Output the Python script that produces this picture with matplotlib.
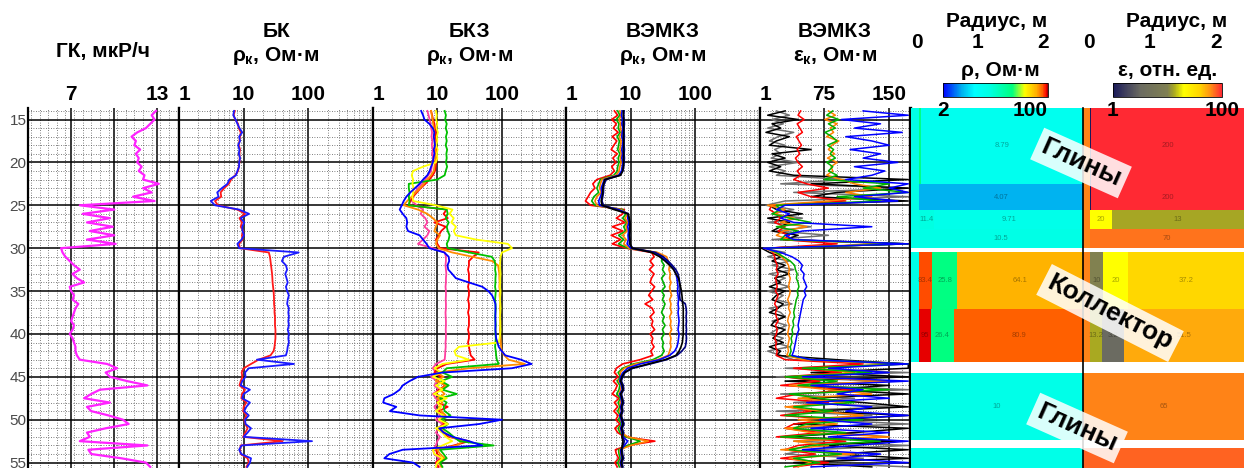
import numpy as np
import matplotlib
matplotlib.use("Agg")
import matplotlib.pyplot as plt
from matplotlib import transforms
from matplotlib.cm import ScalarMappable
from matplotlib.colors import LinearSegmentedColormap, LogNorm
from matplotlib.ticker import FixedLocator, MultipleLocator, LogLocator, NullLocator

plt.rcParams['font.family'] = ['Liberation Sans', 'DejaVu Sans']
plt.rcParams['mathtext.fontset'] = 'custom'
plt.rcParams['mathtext.rm'] = 'Liberation Sans:bold'
plt.rcParams['mathtext.it'] = 'Liberation Sans:bold'
plt.rcParams['mathtext.bf'] = 'Liberation Sans:bold'

# ---------------- data: logs sampled every 0.5 m, 14.0 ... 55.5 m ----------------
depth = np.arange(14.0, 56.0, 0.5)

gk = [12.9, 12.6, 12.8, 12.5, 12.2, 11.6, 11.2, 11.5, 11.4, 11.8,
      11.5, 11.7, 11.6, 11.9, 11.7, 12.1, 12.0, 13.1, 12.0, 12.6,
      11.3, 12.8, 7.6, 10.0, 7.8, 9.7, 8.1, 9.9, 8.3, 10.0,
      8.1, 10.1, 6.3, 6.4, 6.6, 6.9, 7.2, 7.6, 7.1, 7.4,
      7.9, 6.9, 7.0, 7.2, 7.1, 7.5, 7.3, 7.2, 7.1, 7.0,
      7.2, 7.1, 6.9, 7.1, 7.2, 7.3, 7.3, 7.4, 7.6, 9.5,
      10.2, 9.4, 9.7, 10.9, 12.3, 9.0, 8.4, 7.9, 9.7, 8.1,
      8.4, 9.6, 10.6, 11.0, 9.4, 8.1, 8.3, 7.6, 12.3, 8.2,
      8.4, 10.5, 12.2, 12.5]

bk_blue = [7.1, 6.9, 7.5, 8.0, 8.6, 9.5, 8.5, 8.8, 8.2, 8.6,
           8.4, 8.8, 8.5, 8.5, 8.0, 7.6, 6.0, 5.6, 4.6, 3.9,
           4.1, 3.1, 3.6, 8.5, 12.1, 9.0, 10.2, 9.5, 9.6, 10.1,
           9.3, 8.0, 8.5, 71, 42, 39, 45, 47, 44, 46,
           48, 45, 47, 50, 48, 47, 50, 49, 50, 49,
           50, 48, 50, 49, 50, 48, 47, 45, 16, 60,
           12, 10.5, 10.7, 9.5, 9.0, 12.5, 10.0, 9.5, 12.5, 11.0,
           10.2, 12.0, 10.5, 10.7, 13.0, 11.5, 10.0, 114, 9.3, 8.5,
           9.2, 13.0, 12.5, 11.4]
bk_red = [7.3, 7.0, 7.4, 8.2, 8.4, 9.0, 8.8, 8.6, 8.4, 8.8,
          8.6, 8.7, 8.6, 8.4, 8.2, 7.4, 6.4, 5.9, 5.0, 4.4,
          4.5, 3.6, 4.0, 8.0, 10.5, 8.6, 9.4, 9.0, 9.8, 9.4,
          9.6, 8.5, 8.7, 24.5, 25.5, 26, 26.5, 27, 27.5, 27.8,
          28, 28.5, 29, 29.3, 29.5, 29.5, 30, 30, 30.5, 30.5,
          30.5, 31, 31, 31, 30.5, 30, 29, 26, 17, 13,
          10.0, 9.3, 9.6, 9.0, 8.6, 10.5, 9.4, 9.2, 11.0, 10.0,
          9.8, 11.0, 10.2, 10.6, 11.5, 10.6, 9.8, 40, 9.0, 8.8,
          9.0, 11.5, 12.0, 11.0]

bkz_blue = [5.6, 6.0, 6.3, 7.5, 8.5, 9.0, 8.8, 9.0, 9.2, 8.8,
            9.0, 8.7, 8.5, 8.0, 7.6, 7.0, 6.0, 5.3, 4.5, 3.8,
            3.3, 3.0, 2.8, 2.6, 2.9, 3.3, 3.4, 3.3, 3.5, 5.3,
            6.0, 6.8, 7.5, 12.8, 15.0, 15.3, 14.4, 14.8, 17.0, 19.4,
            31, 50, 62, 71, 76, 80, 80, 80, 80, 80,
            80, 80, 81, 82, 86, 90, 100, 114, 200, 292,
            144, 12, 5.0, 3.7, 2.9, 2.6, 2.1, 1.5, 1.44, 2.3,
            1.83, 5.3, 101, 45, 10.7, 12.5, 17.2, 31, 50, 2.9,
            1.8, 1.5, 4.2, 5.3]
bkz_pink = [7.0, 7.3, 7.6, 7.8, 8.0, 8.3, 8.1, 8.4, 8.2, 8.5,
            8.3, 8.6, 8.4, 8.2, 8.0, 7.2, 6.5, 5.8, 5.0, 4.5,
            4.2, 4.0, 4.8, 6.0, 5.5, 6.5, 7.0, 6.3, 7.5, 7.0,
            6.0, 5.0, 8.5, 13.0, 13.6, 13.6, 13.4, 13.6, 13.8, 13.6,
            13.6, 13.4, 13.6, 13.6, 13.5, 13.6, 13.6, 13.4, 13.5, 13.6,
            13.6, 13.5, 13.6, 13.6, 13.4, 13.5, 13.3, 13.2, 13.0, 9.5,
            8.5, 9.5, 8.0, 10.0, 9.0, 10.5, 8.5, 9.5, 10.5, 9.0,
            10.0, 11.0, 9.5, 12.0, 10.5, 9.5, 11.0, 10.0, 9.5, 8.5,
            9.0, 10.5, 9.5, 10.0]
bkz_red = [8.0, 8.3, 8.6, 9.0, 9.2, 9.5, 9.3, 9.6, 9.4, 9.8,
           9.5, 9.8, 9.6, 9.4, 9.2, 8.5, 7.5, 6.5, 5.5, 4.8,
           4.2, 3.8, 3.6, 14.0, 12.5, 14.5, 9.0, 13.5, 11.5, 10.5,
           9.5, 10.0, 11.0, 44, 36, 31, 31, 30, 31, 31,
           31, 30, 31, 31, 30, 31, 31, 30, 31, 31,
           31, 30, 31, 31, 30, 31, 32, 33, 38, 14,
           10.0, 9.0, 11.5, 10.0, 13.5, 10.5, 9.5, 12.0, 10.0, 14.5,
           10.5, 12.5, 11.0, 13.0, 10.0, 12.0, 15.0, 31, 18, 9.5,
           10.0, 11.5, 9.5, 10.5]
bkz_orange = [8.0, 8.2, 8.4, 8.6, 8.8, 9.0, 8.8, 9.2, 9.0, 9.3,
              9.1, 9.3, 9.2, 9.0, 8.8, 8.0, 7.0, 6.2, 5.4, 4.6,
              4.0, 3.4, 3.0, 5.0, 7.0, 8.5, 10.0, 9.5, 9.0, 11.0,
              10.0, 9.5, 10.5, 17, 35, 71, 88, 90, 92, 92,
              93, 92, 94, 93, 94, 95, 94, 95, 94, 95,
              95, 94, 95, 96, 97, 98, 100, 110, 128, 230,
              31, 10.0, 12.5, 9.5, 14.0, 11.0, 13.0, 10.0, 12.0, 10.5,
              11.5, 13.5, 12.0, 14.5, 11.0, 13.0, 16.0, 25, 20, 10.0,
              11.0, 13.0, 10.5, 11.5]
bkz_green = [13.0, 13.6, 13.2, 14.0, 13.5, 14.2, 13.6, 14.0, 13.5, 14.2,
             13.8, 14.0, 13.6, 14.2, 13.5, 13.0, 10.0, 3.6, 3.6, 3.7,
             3.6, 3.7, 3.6, 14.0, 14.5, 13.5, 15.0, 14.0, 14.5, 15.5,
             15.0, 14.0, 14.5, 31, 70, 78, 80, 79, 81, 80,
             80, 79, 81, 80, 79, 80, 81, 80, 79, 80,
             81, 80, 80, 81, 80, 79, 81, 82, 84, 90,
             14.0, 12.0, 17.0, 11.5, 15.0, 12.0, 20, 11.0, 14.0, 12.5,
             13.0, 16.0, 11.5, 14.5, 12.0, 15.0, 18.0, 22, 75, 11.0,
             12.5, 14.0, 11.0, 12.0]
bkz_yellow = [9.5, 9.8, 9.6, 10.0, 9.7, 10.2, 9.8, 10.0, 9.6, 10.1,
              9.8, 10.0, 9.5, 6.0, 4.2, 4.0, 4.2, 4.1, 4.3, 4.2,
              4.1, 4.2, 9.5, 17.2, 15.5, 18.0, 16.5, 19.5, 18.0, 19.4,
              40, 125, 145, 101, 96, 95, 94, 95, 96, 95,
              95, 94, 96, 95, 94, 95, 96, 95, 94, 95,
              95, 96, 95, 93, 90, 21.7, 18.5, 19.5, 31, 12.0,
              9.0, 11.5, 8.5, 13.0, 9.5, 12.0, 8.8, 14.0, 10.0, 11.5,
              9.5, 12.5, 10.5, 14.5, 9.5, 12.0, 13.5, 17.0, 12.0, 8.5,
              9.0, 12.0, 10.0, 9.5]

vr_red = [5.6, 6.3, 5.1, 6.0, 5.4, 6.4, 5.2, 6.1, 5.5, 5.0,
          6.2, 5.3, 5.9, 5.1, 5.6, 4.8, 3.0, 2.6, 2.8, 2.4,
          2.2, 2.0, 2.4, 8.0, 7.5, 6.0, 8.2, 5.2, 7.6, 5.0,
          7.0, 5.2, 8.5, 21, 23, 20, 22.5, 19.5, 23, 21,
          20, 23.5, 21, 19, 22, 16.7, 21.5, 23, 20, 22,
          21, 23.5, 20, 22, 21, 23, 20.5, 22, 14, 7.5,
          6.0, 5.6, 6.4, 5.4, 6.2, 5.8, 5.2, 6.6, 5.6, 6.3,
          5.5, 6.4, 5.9, 6.8, 5.7, 6.3, 8.0, 23.7, 9.0, 5.8,
          6.0, 6.5, 5.7, 6.2]
vr_green = [6.3, 6.8, 6.0, 6.6, 6.4, 6.9, 6.2, 6.7, 6.5, 6.3,
            6.8, 6.4, 6.6, 6.3, 6.2, 5.5, 3.4, 3.2, 3.0, 3.2,
            2.7, 2.5, 2.8, 7.5, 8.5, 7.5, 8.8, 7.8, 8.4, 6.5,
            7.8, 6.5, 9.0, 25, 31, 30, 33, 31, 34, 30,
            32, 34, 30, 33, 31, 34, 32, 30, 33, 31,
            34, 31, 33, 30, 32, 31, 33, 30, 22, 11,
            7.5, 6.4, 7.0, 6.2, 6.8, 6.6, 6.1, 7.0, 6.4, 6.8,
            6.3, 6.9, 6.5, 7.2, 6.4, 6.8, 8.5, 14.0, 9.0, 6.5,
            6.6, 6.9, 6.3, 6.7]
vr_orange = [6.8, 7.2, 6.6, 7.0, 6.9, 7.3, 6.7, 7.1, 7.0, 6.8,
             7.2, 6.9, 7.1, 6.8, 6.6, 6.0, 3.6, 3.4, 3.3, 3.5,
             3.0, 2.8, 3.0, 7.0, 9.0, 8.2, 9.0, 8.5, 8.8, 7.5,
             8.5, 7.8, 9.5, 26, 36, 38, 40, 39, 41, 40,
             42, 40, 41, 43, 40, 42, 41, 43, 40, 42,
             41, 43, 40, 42, 41, 42, 40, 38, 26, 12,
             8.0, 6.8, 7.3, 6.5, 7.2, 7.0, 6.6, 7.4, 6.8, 7.1,
             6.7, 7.3, 6.9, 7.5, 6.8, 7.2, 9.0, 18.8, 10.0, 6.8,
             7.0, 7.3, 6.7, 7.1]
vr_blue = [7.4, 7.2, 7.5, 7.3, 7.6, 7.4, 7.3, 7.6, 7.5, 7.3,
           7.5, 7.3, 7.6, 7.4, 7.2, 6.5, 3.9, 3.7, 3.5, 3.6,
           3.4, 3.2, 3.3, 6.5, 9.2, 9.0, 9.4, 9.0, 9.3, 9.1,
           9.2, 8.8, 10.0, 23, 30, 36, 42, 47, 50, 52,
           53, 54, 53, 54, 55, 54, 55, 54, 55, 56,
           55, 54, 56, 55, 54, 52, 48, 40, 28, 14,
           9.0, 7.6, 7.0, 6.8, 7.2, 7.4, 6.8, 7.1, 7.3, 7.0,
           7.2, 6.8, 7.1, 7.4, 7.0, 7.3, 7.6, 9.0, 8.0, 7.0,
           7.1, 7.3, 6.9, 7.2]
vr_navy = [7.9, 7.8, 7.9, 8.0, 7.9, 7.9, 8.0, 7.9, 7.9, 8.0,
           7.9, 8.0, 7.9, 7.8, 7.6, 6.8, 4.2, 3.9, 3.8, 3.8,
           3.7, 3.6, 3.8, 6.0, 9.0, 9.4, 9.6, 9.7, 9.6, 9.5,
           9.7, 9.6, 10.8, 24, 32, 38, 44, 50, 54, 56,
           57, 58, 58, 57, 58, 70, 72, 73, 72, 73,
           72, 73, 72, 73, 72, 70, 62, 52, 36, 20,
           10.8, 8.2, 7.5, 7.2, 7.7, 7.8, 7.2, 7.5, 7.8, 7.4,
           7.6, 7.2, 7.5, 7.9, 7.4, 7.8, 7.5, 8.0, 7.6, 7.4,
           7.5, 7.8, 7.3, 7.6]
vr_black = [7.7, 7.7, 7.8, 7.7, 7.8, 7.8, 7.7, 7.8, 7.8, 7.7,
            7.8, 7.7, 7.8, 7.7, 7.5, 7.0, 4.0, 3.8, 3.7, 3.7,
            3.6, 3.5, 3.6, 5.5, 9.2, 9.5, 9.8, 9.8, 9.8, 9.6,
            9.8, 9.8, 10.5, 21, 28, 34, 40, 46, 50, 55,
            57, 59, 61, 62, 63, 64, 65, 65, 65, 65,
            65, 65, 65, 64, 63, 60, 56, 50, 34, 18.8,
            10.4, 8.0, 7.3, 7.0, 7.4, 7.6, 7.0, 7.3, 7.5, 7.2,
            7.4, 7.0, 7.3, 7.6, 7.2, 7.5, 7.3, 7.6, 7.4, 7.2,
            7.3, 7.5, 7.1, 7.4]

ve_red = [48, 45, 52, 44, 47, 50, 43, 46, 49, 44,
          47, 42, 45, 50, 44, 48, 40, 55, 80, 45,
          60, 100, 15, 12, 20, 25, 18, 30, 22, 35,
          28, 90, 10, 16, 18, 19, 21, 20, 22, 19,
          20, 21, 19, 22, 20, 18, 21, 19, 20, 22,
          19, 21, 20, 18, 20, 19, 21, 20, 30, 120,
          40, 95, 30, 70, 25, 110, 45, 20, 80, 35,
          60, 25, 90, 40, 30, 70, 20, 100, 45, 30,
          65, 25, 80, 40]
ve_green = [85, 78, 92, 80, 88, 76, 84, 90, 79, 86,
            82, 88, 78, 85, 80, 90, 75, 150, 120, 172,
            90, 140, 20, 25, 15, 35, 60, 20, 45, 30,
            25, 170, 8, 20, 28, 36, 41, 42, 44, 43,
            45, 46, 44, 45, 43, 42, 41, 40, 41, 39,
            40, 38, 39, 37, 38, 36, 37, 35, 60, 172,
            50, 130, 30, 90, 45, 150, 35, 70, 110, 40,
            85, 30, 120, 55, 40, 100, 25, 140, 60, 35,
            95, 40, 70, 30]
ve_orange = [80, 88, 76, 90, 82, 86, 78, 92, 84, 80,
             87, 79, 90, 83, 85, 78, 95, 110, 140, 100,
             130, 80, 10, 30, 18, 40, 25, 55, 28, 20,
             35, 150, 6, 18, 26, 31, 34, 35, 34, 36,
             35, 34, 36, 35, 33, 35, 34, 36, 34, 33,
             35, 34, 33, 35, 34, 33, 34, 32, 50, 160,
             60, 110, 40, 150, 35, 80, 130, 45, 100, 30,
             70, 120, 45, 90, 30, 60, 150, 40, 80, 25,
             110, 35, 60, 45]
ve_blue = [120, 172, 95, 140, 110, 165, 100, 130, 150, 105,
           140, 120, 160, 110, 145, 130, 100, 172, 150, 172,
           110, 160, 30, 20, 35, 25, 40, 130, 50, 30,
           40, 172, 5, 25, 38, 46, 50, 48, 52, 51,
           53, 55, 52, 54, 51, 50, 49, 48, 47, 46,
           45, 46, 44, 43, 42, 41, 40, 38, 60, 172,
           80, 150, 50, 172, 60, 120, 90, 150, 55, 130,
           100, 172, 70, 130, 60, 150, 80, 172, 110, 50,
           140, 90, 172, 60]
ve_gray = [20, 35, 15, 28, 10, 40, 22, 12, 30, 18,
           25, 14, 45, 12, 30, 20, 100, 25, 172, 40,
           172, 30, 8, 40, 15, 50, 10, 60, 20, 80,
           15, 172, 4, 30, 10, 35, 15, 40, 12, 30,
           18, 35, 10, 28, 20, 38, 12, 25, 30, 15,
           32, 20, 12, 28, 18, 35, 10, 25, 40, 172,
           30, 172, 20, 140, 60, 172, 25, 110, 40, 160,
           20, 130, 70, 172, 30, 90, 150, 40, 172, 60,
           30, 120, 50, 172]
ve_black = [30, 10, 45, 15, 25, 8, 35, 20, 12, 60,
            15, 30, 10, 25, 12, 40, 172, 60, 172, 90,
            60, 172, 12, 20, 50, 10, 35, 25, 15, 45,
            30, 172, 3, 12, 25, 15, 30, 20, 35, 18,
            25, 12, 30, 20, 15, 28, 22, 12, 30, 18,
            14, 30, 22, 16, 28, 12, 25, 20, 90, 172,
            172, 60, 172, 30, 150, 80, 172, 50, 120, 172,
            60, 172, 90, 40, 172, 110, 30, 160, 70, 172,
            90, 172, 40, 130]

# ---------------- data: inversion model (layers, radial zones) ----------------
layer_top = [13.6, 22.5, 25.6, 27.8, 30.4, 37.1, 44.5, 53.3]
layer_bot = [22.5, 25.6, 27.8, 30.0, 37.1, 43.3, 52.4, 58.0]
rho_edges = [[0, 0.12, 0.15, 2.6], [0, 0.12, 2.6], [0, 0.12, 0.35, 2.6], [0, 0.12, 2.6],
             [0, 0.12, 0.32, 0.70, 2.6], [0, 0.12, 0.30, 0.65, 2.6], [0, 2.6], [0, 2.6]]
rho_vals = [[10, 25, 8.79], [10, 4.07], [10, 11.4, 9.71], [10, 10.5],
            [10, 83.4, 25.8, 64.1], [10, 95, 26.4, 80.9], [10], [10]]
eps_edges = [[0, 0.1, 0.12, 2.42], [0, 0.1, 0.12, 2.42], [0, 0.1, 0.44, 2.42], [0, 0.1, 2.42],
             [0, 0.1, 0.3, 0.67, 2.42], [0, 0.1, 0.29, 0.62, 2.42], [0, 2.42], [0, 2.42]]
eps_vals = [[65, 1, 200], [65, 1, 200], [65, 20, 13], [65, 70],
            [65, 10, 20, 37.2], [65, 13.2, 3.2, 51.5], [65], [75]]

# ---------------- figure ----------------
W, H = 1244, 468
TOP = 107.5
D_TOP, D_BOT = 13.6, 55.63
fig = plt.figure(figsize=(W / 100, H / 100), dpi=100)


def frac_y(py):
    # pixel row -> axes fraction of a track axes
    return (H - py) / (H - TOP)


def track(x0, x1):
    ax = fig.add_axes([x0 / W, 0, (x1 - x0) / W, (H - TOP) / H])
    ax.set_ylim(D_BOT, D_TOP)
    ax.yaxis.set_major_locator(MultipleLocator(5))
    ax.yaxis.set_minor_locator(MultipleLocator(1))
    ax.tick_params(which='both', length=0, labelbottom=False, labelleft=False)
    for s in ('top', 'bottom'):
        ax.spines[s].set_visible(False)
    for s in ('left', 'right'):
        ax.spines[s].set_linewidth(1.6)
    return ax


def grid(ax):
    ax.grid(which='major', color='black', lw=1.1)
    ax.grid(which='minor', color='#555555', lw=0.6, ls=(0, (1, 2)))
    ax.set_axisbelow(True)


def log_track(x0, x1):
    ax = track(x0, x1)
    ax.set_xscale('log')
    ax.set_xlim(1, 1000)
    ax.xaxis.set_major_locator(FixedLocator([10, 100]))
    ax.xaxis.set_minor_locator(LogLocator(base=10, subs=np.arange(2, 10), numticks=20))
    grid(ax)
    return ax


def scale_labels(ax, vals, first_left=True):
    tr = transforms.blended_transform_factory(ax.transData, ax.transAxes)
    for i, v in enumerate(vals):
        ha = 'left' if (first_left and i == 0) else 'center'
        ax.text(v, frac_y(95), f'{v:g}', transform=tr, ha=ha, va='center',
                fontsize=15, fontweight='bold', clip_on=False)


def titles(ax, line1, line2):
    if line1:
        ax.text(0.5, frac_y(31), line1, transform=ax.transAxes, ha='center', va='center',
                fontsize=15, fontweight='bold')
    ax.text(0.5, frac_y(56), line2, transform=ax.transAxes, ha='center', va='center',
            fontsize=15, fontweight='bold')


# ГК
ax_gk = track(28, 179)
ax_gk.set_xlim(4, 14.5)
ax_gk.xaxis.set_major_locator(FixedLocator([7, 10, 13]))
ax_gk.xaxis.set_minor_locator(MultipleLocator(0.6))
grid(ax_gk)
ax_gk.plot(gk, depth, color='#ff22ff', lw=1.6)
ax_gk.tick_params(axis='y', which='major', labelleft=True, labelsize=11, labelcolor='#4a4a4a', pad=1)
ax_gk.set_yticks([15, 20, 25, 30, 35, 40, 45, 50, 55])
scale_labels(ax_gk, [7, 13], first_left=False)
ax_gk.text(0.5, frac_y(52), 'ГК, мкР/ч', transform=ax_gk.transAxes, ha='center', va='center',
           fontsize=15, fontweight='bold')

# БК
ax_bk = log_track(179, 373)
ax_bk.plot(bk_red, depth, color='#ff1a1a', lw=1.3)
ax_bk.plot(bk_blue, depth, color='#1a1aff', lw=1.3)
scale_labels(ax_bk, [1, 10, 100])
titles(ax_bk, 'БК', r'$ρ_{к}$, Ом·м')

# БКЗ
ax_bkz = log_track(373, 566)
for vals, col in [(bkz_pink, '#ff3fa0'), (bkz_red, '#ff0000'), (bkz_orange, '#ff8c00'),
                  (bkz_green, '#00c000'), (bkz_yellow, '#ffff00'), (bkz_blue, '#0000ff')]:
    ax_bkz.plot(vals, depth, color=col, lw=1.3)
scale_labels(ax_bkz, [1, 10, 100])
titles(ax_bkz, 'БКЗ', r'$ρ_{к}$, Ом·м')

# ВЭМКЗ rho
ax_vr = log_track(566, 760)
for vals, col in [(vr_red, '#ff0000'), (vr_green, '#00b000'), (vr_orange, '#ff8000'),
                  (vr_blue, '#0000ff'), (vr_navy, '#000080'), (vr_black, '#000000')]:
    ax_vr.plot(vals, depth, color=col, lw=1.2)
scale_labels(ax_vr, [1, 10, 100])
titles(ax_vr, 'ВЭМКЗ', r'$ρ_{к}$, Ом·м')

# ВЭМКЗ eps
ax_ve = track(760, 910)
ax_ve.set_xlim(1.15, 174)
ax_ve.xaxis.set_major_locator(FixedLocator([75, 150]))
ax_ve.xaxis.set_minor_locator(MultipleLocator(15))
grid(ax_ve)
ax_ve.spines['right'].set_linewidth(2.4)
for vals, col in [(ve_gray, '#707070'), (ve_black, '#000000'), (ve_red, '#ff0000'),
                  (ve_orange, '#ff8000'), (ve_green, '#00b000'), (ve_blue, '#0000ff')]:
    ax_ve.plot(vals, depth, color=col, lw=1.1)
tr = transforms.blended_transform_factory(ax_ve.transData, ax_ve.transAxes)
ax_ve.text(1.15, frac_y(95), '1', transform=tr, ha='left', va='center', fontsize=15, fontweight='bold')
for v in (75, 150):
    ax_ve.text(v, frac_y(95), f'{v}', transform=tr, ha='center', va='center', fontsize=15, fontweight='bold')
titles(ax_ve, 'ВЭМКЗ', r'$ε_{к}$, Ом·м')

# ---------------- model tracks ----------------
rho_cmap = LinearSegmentedColormap.from_list('rho', [
    (0.0, (0.0, 0.0, 1.0)), (0.18, (0.0, 0.70, 0.94)), (0.30, (0.0, 1.0, 1.0)),
    (0.45, (0.0, 1.0, 0.88)), (0.66, (0.0, 1.0, 0.5)), (0.78, (1.0, 1.0, 0.0)),
    (0.89, (1.0, 0.69, 0.0)), (0.95, (1.0, 0.37, 0.0)), (0.985, (1.0, 0.0, 0.0)),
    (1.0, (0.55, 0.0, 0.0))])
eps_cmap = LinearSegmentedColormap.from_list('eps', [
    (0.0, (0.10, 0.10, 0.35)), (0.25, (0.42, 0.42, 0.38)), (0.5, (0.50, 0.50, 0.32)),
    (0.56, (0.66, 0.66, 0.13)), (0.65, (1.0, 1.0, 0.0)), (0.80, (1.0, 0.83, 0.0)),
    (0.90, (1.0, 0.55, 0.08)), (1.0, (1.0, 0.16, 0.2))])
rho_norm = LogNorm(2, 100)
eps_norm = LogNorm(1, 100)


def model_track(x0, x1, rmax, edges_list, vals_list, cmap, norm):
    ax = fig.add_axes([x0 / W, 0, (x1 - x0) / W, (H - TOP) / H])
    ax.set_xlim(0, rmax)
    ax.set_ylim(D_BOT, D_TOP)
    ax.set_xticks([])
    ax.set_yticks([])
    for s in ax.spines.values():
        s.set_visible(False)
    for top, bot, edges, vals in zip(layer_top, layer_bot, edges_list, vals_list):
        ax.pcolormesh(edges, [top, bot], np.array([vals]), cmap=cmap, norm=norm)
        mid = (top + bot) / 2
        if mid > D_BOT - 0.5:
            continue
        for k, v in enumerate(vals):
            if edges[k + 1] - edges[k] >= 0.1 and not (k == 0 and len(vals) > 1):
                ax.text((edges[k] + edges[k + 1]) / 2, mid, f'{v:g}',
                        fontsize=5.5, color='black', alpha=0.35, ha='center', va='center')
    tr = transforms.blended_transform_factory(ax.transData, ax.transAxes)
    for r in (0, 1, 2):
        ax.text(r, frac_y(42), str(r), transform=tr, ha='left' if r == 0 else 'center',
                va='center', fontsize=15, fontweight='bold', clip_on=False)
    ax.text(1.3 if rmax > 2.5 else 1.4, frac_y(21), 'Радиус, м', transform=tr,
            ha='center', va='center', fontsize=15, fontweight='bold', clip_on=False)
    return ax


ax_mr = model_track(911, 1083, 2.6, rho_edges, rho_vals, rho_cmap, rho_norm)
ax_me = model_track(1083, 1244, 2.42, eps_edges, eps_vals, eps_cmap, eps_norm)
ax_me.spines['left'].set_visible(True)
ax_me.spines['left'].set_linewidth(1.2)

# colour bars
for (x0, x1, cmap, norm, ticks, label, lx) in [
        (943, 1048, rho_cmap, rho_norm, [2, 100], 'ρ, Ом·м', 1000),
        (1113, 1222, eps_cmap, eps_norm, [1, 100], 'ε, отн. ед.', 1168)]:
    cax = fig.add_axes([x0 / W, 1 - 97 / H, (x1 - x0) / W, 14 / H])
    cb = fig.colorbar(ScalarMappable(norm=norm, cmap=cmap), cax=cax, orientation='horizontal')
    cb.set_ticks(ticks)
    cb.set_ticklabels([f'{t:g}' for t in ticks])
    cax.xaxis.set_minor_locator(NullLocator())
    cax.tick_params(length=0, labelsize=15, pad=3)
    for lbl in cax.get_xticklabels():
        lbl.set_fontweight('bold')
    if x0 < 1000:
        cax.get_xticklabels()[-1].set_ha('right')
    cb.outline.set_linewidth(0.6)
    fig.text(lx / W, 1 - 71 / H, label, ha='center', va='center', fontsize=15, fontweight='bold')

# interpretation labels
box = dict(boxstyle='square,pad=0.2', fc='white', ec='none', alpha=0.85)
for txt, x, y, rot in [('Глины', 1081, 163, -24), ('Коллектор', 1110, 313, -27),
                       ('Глины', 1077, 428, -24)]:
    fig.text(x / W, 1 - y / H, txt, rotation=rot, rotation_mode='anchor', ha='center',
             va='center', fontsize=19, fontweight='bold', bbox=box, zorder=10)

fig.savefig('out.png', dpi=100)
